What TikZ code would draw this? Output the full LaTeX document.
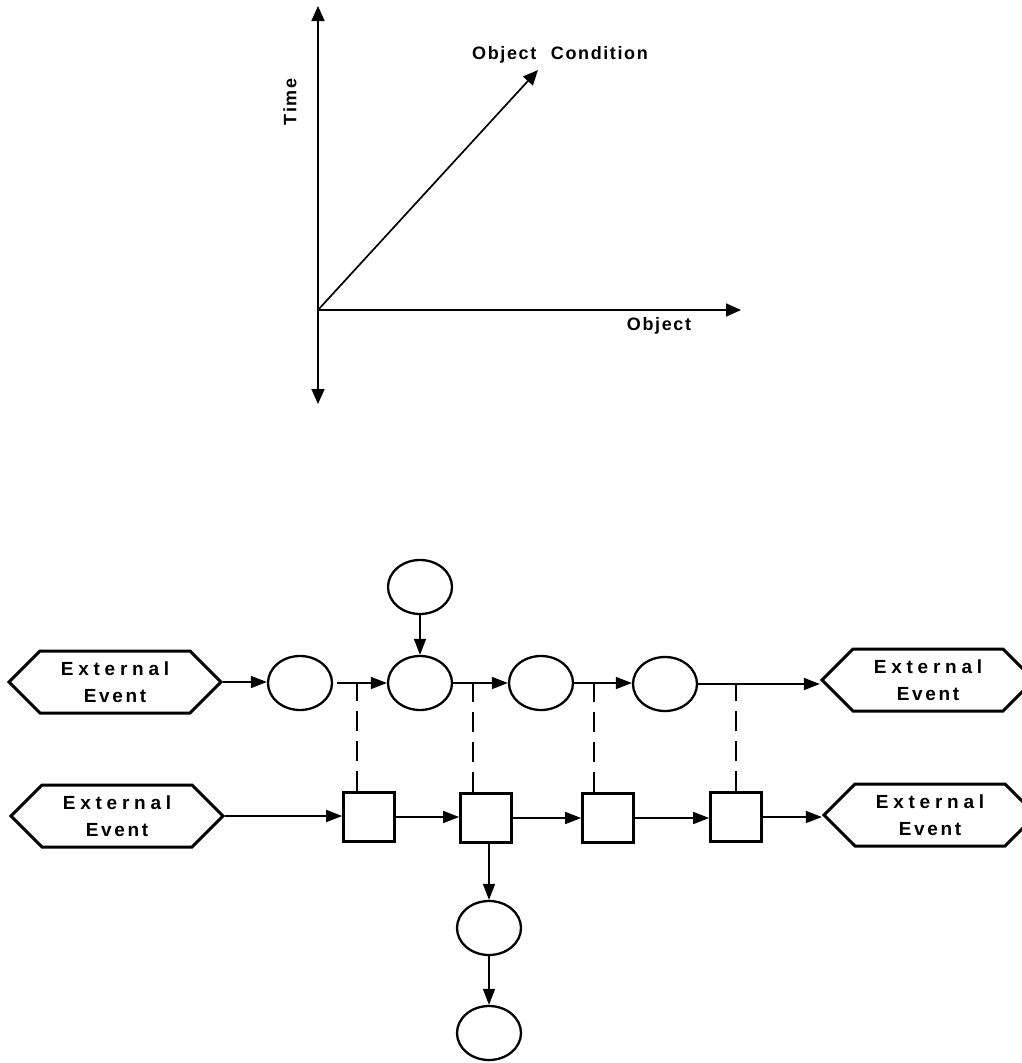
\documentclass[tikz,border=0pt]{standalone}
\usepackage{fontspec}
\setmainfont{Liberation Sans}
\usetikzlibrary{arrows.meta,shapes.symbols,shapes.geometric}

\newcommand\evfont{\fontsize{19}{27}\selectfont\bfseries}
\newcommand\axfont{\fontsize{18}{20}\selectfont\bfseries\addfontfeature{LetterSpace=9}}
\newcommand\extevent{{\addfontfeature{LetterSpace=25}External}\\{\addfontfeature{LetterSpace=14}Event}}

\begin{document}
\begin{tikzpicture}[x=1pt,y=-1pt,
  axis/.style={line width=1.7pt},
  axtip/.style={-{Triangle[length=15pt,width=13pt]}},
  flow/.style={line width=1.5pt,-{Triangle[length=16pt,width=12pt]}},
  link/.style={line width=1.4pt,dash pattern=on 20pt off 10pt},
  state/.style={ellipse,draw,line width=2.3pt,minimum width=64pt,minimum height=54pt,inner sep=0pt},
  act/.style={rectangle,draw,line width=2.7pt,minimum width=51pt,minimum height=49pt,inner sep=0pt},
  event/.style={signal,signal to=west and east,signal pointer angle=90,draw,line width=3pt,
    minimum width=212pt,minimum height=62pt,inner sep=0pt,align=center,font=\evfont},
  axlabel/.style={font=\axfont}
]
\useasboundingbox (0,0) rectangle (1022,1063);

% ---- time / object axes ----
\coordinate (orig) at (318,310);
\coordinate (ytop) at (318,6);
\coordinate (ybot) at (318,404);
\coordinate (xend) at (741,310);
\coordinate (cond) at (538,70);
\draw[axis,{Triangle[length=15pt,width=13pt]}-{Triangle[length=15pt,width=13pt]}] (ybot) -- (ytop);
\draw[axis,axtip] (orig) -- (xend);
\draw[axis,axtip] (orig) -- (cond);
\node[axlabel] (lcond) at (560,55) {Object\hspace{8pt} Condition};
\node[axlabel,rotate=90] (ltime) at (290,102) {Time};
\node[axlabel] (lobj) at (659,326) {Object};

% ---- event flow: upper row ----
\node[event] (h1) at (115,682) {\extevent};
\node[state] (e1) at (300,683) {};
\node[state] (e2) at (420,683) {};
\node[state] (e3) at (541,683) {};
\node[state] (e4) at (665,684) {};
\node[event] (h2) at (928,680) {\extevent};
\node[state] (e0) at (420,587) {};

% ---- event flow: lower row ----
\node[event] (h3) at (117,816) {\extevent};
\node[act] (s1) at (369,817) {};
\node[act] (s2) at (486,818) {};
\node[act] (s3) at (608,818) {};
\node[act] (s4) at (736,817) {};
\node[event] (h4) at (930,815) {\extevent};
\node[state] (e5) at (489,928) {};
\node[state] (e6) at (489,1033) {};

% junction points for the dashed links
\coordinate (j1) at (357,683);
\coordinate (j2) at (473,683);
\coordinate (j3) at (594,683);
\coordinate (j4) at (736,684);

\draw[flow] (h1.east) -- (h1.east -| e1.west);
\draw[flow,shorten <=4pt] (e1) -- (e2);
\draw[flow] (e2) -- (e3);
\draw[flow] (e3.east) -- (e3.east -| e4.west);
\draw[flow] (e4.east) -- (e4.east -| h2.west);
\draw[flow] (e0) -- (e2);

\draw[flow] (h3.east) -- (h3.east -| s1.west);
\draw[flow] (s1.east) -- (s1.east -| s2.west);
\draw[flow] (s2) -- (s3);
\draw[flow] (s3.east) -- (s3.east -| s4.west);
\draw[flow] (s4.east) -- (s4.east -| h4.west);
\draw[flow] (s2.south -| e5.north) -- (e5.north);
\draw[flow] (e5) -- (e6);

\draw[link] (s1.north -| j1) -- (j1);
\draw[link] (s2.north -| j2) -- (j2);
\draw[link] (s3.north -| j3) -- (j3);
\draw[link] (s4.north -| j4) -- (j4);
\end{tikzpicture}
\end{document}
